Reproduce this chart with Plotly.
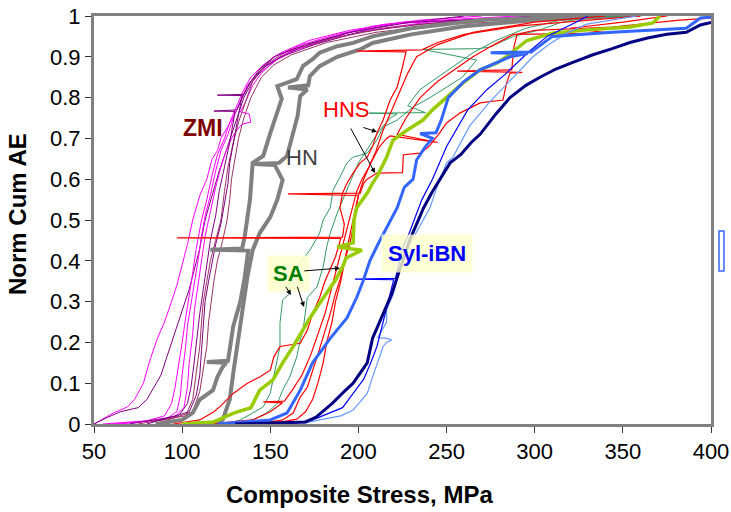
import plotly.graph_objects as go

# ---------------- data (Composite Stress MPa, Norm Cum AE) ----------------
# ZMI curves
zmi1_x = [50, 54, 61, 69, 73, 78, 82, 86, 90, 94, 97, 100, 103, 106, 110, 114, 117, 120, 122, 126, 130, 133, 138, 144, 154, 165, 178, 193, 208, 235, 270]
zmi1_y = [0, 0.01, 0.027, 0.042, 0.06, 0.1, 0.16, 0.21, 0.25, 0.3, 0.34, 0.39, 0.44, 0.5, 0.56, 0.6, 0.65, 0.67, 0.7, 0.73, 0.76, 0.79, 0.835, 0.86, 0.893, 0.918, 0.935, 0.957, 0.975, 0.99, 1.0]
zmi2_x = [50, 57, 65, 75, 80, 84, 88, 91, 94, 98, 101, 104, 107, 110, 113, 117, 121, 125, 128, 131, 135, 140, 148, 160, 175, 195, 220, 260]
zmi2_y = [0, 0.015, 0.03, 0.04, 0.06, 0.09, 0.12, 0.16, 0.2, 0.25, 0.29, 0.33, 0.38, 0.43, 0.5, 0.56, 0.62, 0.67, 0.71, 0.75, 0.8, 0.84, 0.88, 0.91, 0.935, 0.96, 0.98, 1.0]
zmi3_x = [55, 80, 90, 94, 96, 98, 100, 102, 104, 106, 108, 111, 114, 117, 120, 124, 127, 131, 135, 139, 146, 156, 172, 195, 225, 290]
zmi3_y = [0, 0.008, 0.02, 0.05, 0.09, 0.14, 0.2, 0.26, 0.31, 0.37, 0.43, 0.5, 0.55, 0.61, 0.66, 0.7, 0.74, 0.78, 0.82, 0.85, 0.88, 0.91, 0.94, 0.965, 0.985, 1.0]
zmi4_x = [60, 90, 97, 99, 100, 102, 103, 105, 107, 109, 111, 113, 116, 119, 122, 126, 129, 133, 137, 143, 152, 168, 188, 215, 300]
zmi4_y = [0, 0.01, 0.03, 0.07, 0.12, 0.19, 0.24, 0.29, 0.34, 0.4, 0.46, 0.51, 0.56, 0.62, 0.67, 0.71, 0.75, 0.79, 0.83, 0.86, 0.9, 0.93, 0.955, 0.98, 1.0]
zmi5_x = [65, 95, 101, 103, 104, 106, 107, 109, 111, 113, 116, 119, 122, 125, 128, 131, 134, 139, 138, 133, 136, 140, 145, 152, 162, 180, 205, 240, 320]
zmi5_y = [0, 0.015, 0.04, 0.09, 0.15, 0.22, 0.28, 0.34, 0.4, 0.46, 0.52, 0.58, 0.63, 0.67, 0.7, 0.72, 0.735, 0.74, 0.76, 0.765, 0.79, 0.83, 0.86, 0.89, 0.915, 0.94, 0.965, 0.985, 1.0]
zmi6_x = [70, 98, 103, 105, 106.5, 108, 110, 112, 114, 116, 119, 121, 124, 127, 130, 118, 131, 134, 139, 145, 156, 175, 200, 235, 300]
zmi6_y = [0, 0.02, 0.05, 0.09, 0.14, 0.2, 0.27, 0.33, 0.39, 0.45, 0.51, 0.57, 0.63, 0.69, 0.766, 0.767, 0.77, 0.8, 0.84, 0.87, 0.9, 0.93, 0.96, 0.98, 1.0]
zmi7_x = [75, 102, 106, 108, 110, 111, 112, 114, 116, 119, 122, 124, 126, 129, 132, 136, 140, 147, 160, 185, 215, 260, 340]
zmi7_y = [0, 0.02, 0.06, 0.12, 0.19, 0.25, 0.3, 0.35, 0.4, 0.45, 0.5, 0.57, 0.63, 0.69, 0.74, 0.79, 0.84, 0.88, 0.915, 0.945, 0.97, 0.99, 1.0]
zmi8_x = [80, 104, 108, 110, 111, 112, 113, 115, 117, 119, 122, 124, 126, 127, 129, 131, 134, 120, 135, 139, 144, 152, 170, 195, 230, 320]
zmi8_y = [0, 0.03, 0.07, 0.12, 0.18, 0.24, 0.3, 0.35, 0.4, 0.44, 0.49, 0.54, 0.59, 0.64, 0.69, 0.74, 0.805, 0.806, 0.808, 0.84, 0.87, 0.9, 0.93, 0.96, 0.985, 1.0]
zmi9_x = [85, 106, 110, 112, 114, 115, 116.5, 118, 120, 123, 125.5, 127, 128, 130, 132, 135, 139, 145, 152, 162, 182, 210, 250, 360]
zmi9_y = [0, 0.03, 0.08, 0.13, 0.19, 0.25, 0.3, 0.35, 0.4, 0.45, 0.5, 0.55, 0.6, 0.65, 0.7, 0.75, 0.8, 0.85, 0.88, 0.905, 0.935, 0.96, 0.98, 1.0]

# HN curves
hn1_x = [85, 100, 106, 110, 117.5, 120, 123, 125, 114, 126, 129, 133, 135.5, 137, 137.5, 116, 134, 135.5, 137, 138.5, 140, 146, 150, 154, 156.5, 154, 159.5, 165, 168.5, 174, 178, 188, 197, 208, 230, 270, 330]
hn1_y = [0, 0.01, 0.027, 0.06, 0.083, 0.115, 0.14, 0.15, 0.152, 0.155, 0.24, 0.3, 0.36, 0.41, 0.425, 0.427, 0.43, 0.46, 0.507, 0.55, 0.64, 0.657, 0.713, 0.762, 0.797, 0.828, 0.836, 0.845, 0.877, 0.894, 0.91, 0.926, 0.934, 0.95, 0.97, 0.99, 1.0]
hn2_x = [105, 118, 123, 127, 129, 131, 134.5, 137, 140, 144, 150, 154, 157, 152.5, 141, 155, 159.5, 163, 165.5, 167, 171, 160, 171.5, 172.5, 178, 188, 201, 208, 230, 260, 300, 350]
hn2_y = [0, 0.003, 0.01, 0.06, 0.125, 0.18, 0.28, 0.36, 0.426, 0.468, 0.507, 0.55, 0.598, 0.635, 0.637, 0.64, 0.657, 0.713, 0.755, 0.804, 0.82, 0.825, 0.83, 0.853, 0.877, 0.9, 0.918, 0.934, 0.955, 0.975, 0.99, 1.0]

# HNS curves
hns1_x = [95, 110, 118, 122, 129, 137, 144, 150, 152, 155.5, 167, 171, 174, 178, 181, 184, 187, 189, 190, 97, 191, 192, 189.5, 191, 193.5, 197, 201, 205, 208, 210.5, 214, 218, 222, 225, 227, 199, 236, 245, 260, 290, 330, 360]
hns1_y = [0, 0.01, 0.03, 0.045, 0.075, 0.1, 0.115, 0.132, 0.164, 0.19, 0.198, 0.23, 0.27, 0.31, 0.35, 0.38, 0.41, 0.44, 0.455, 0.456, 0.458, 0.49, 0.53, 0.566, 0.59, 0.615, 0.64, 0.654, 0.68, 0.713, 0.745, 0.794, 0.826, 0.875, 0.912, 0.914, 0.917, 0.935, 0.955, 0.975, 0.99, 1.0]
hns2_x = [120, 150, 157, 163, 167, 171, 176.5, 180, 184, 187, 190, 192, 195, 197, 198, 200, 160, 201, 203, 205, 210.5, 225, 225.5, 235, 240, 246, 250, 257.5, 269, 282, 284, 286, 293, 256, 287, 288, 290, 300, 344, 382, 400]
hns2_y = [0, 0.005, 0.01, 0.027, 0.066, 0.09, 0.164, 0.213, 0.27, 0.32, 0.36, 0.4, 0.44, 0.48, 0.52, 0.56, 0.564, 0.566, 0.59, 0.6, 0.615, 0.616, 0.66, 0.664, 0.68, 0.713, 0.738, 0.762, 0.787, 0.794, 0.835, 0.86, 0.862, 0.865, 0.868, 0.92, 0.955, 0.965, 0.973, 0.99, 0.995]
hns3_x = [130, 155, 165, 170, 174, 177, 180, 182, 185, 187, 190, 192, 194, 196, 198, 200, 203, 207, 212, 216, 218, 245, 222, 227, 235, 245, 255, 265, 275, 288, 343, 320, 350, 375]
hns3_y = [0, 0.004, 0.012, 0.03, 0.06, 0.1, 0.15, 0.2, 0.25, 0.3, 0.35, 0.4, 0.44, 0.48, 0.52, 0.56, 0.6, 0.64, 0.68, 0.7, 0.706, 0.69, 0.71, 0.75, 0.8, 0.84, 0.87, 0.9, 0.925, 0.955, 0.958, 0.97, 0.985, 1.0]
hns4_x = [115, 140, 150, 157, 146, 158, 162, 168, 173, 177, 181, 184, 187, 190, 193, 196, 199, 202, 206, 210, 214, 219, 224, 228, 233, 245, 265, 300, 340]
hns4_y = [0, 0.01, 0.03, 0.052, 0.054, 0.056, 0.08, 0.12, 0.17, 0.22, 0.27, 0.32, 0.37, 0.42, 0.47, 0.52, 0.57, 0.6, 0.63, 0.67, 0.72, 0.77, 0.82, 0.86, 0.9, 0.93, 0.96, 0.985, 1.0]

# SA curves
sa1_x = [125, 133, 140, 146, 150, 151.5, 154, 155.5, 155.5, 157, 161, 161, 165, 172.5, 178, 180, 184, 185.6, 189.5, 193.5, 197, 205, 210.5, 214, 222, 231, 240.6, 250, 259, 267, 236.6, 268, 274.6, 288, 303, 314, 330, 358]
sa1_y = [0, 0.01, 0.027, 0.042, 0.076, 0.108, 0.157, 0.19, 0.247, 0.304, 0.32, 0.353, 0.385, 0.426, 0.468, 0.5, 0.53, 0.573, 0.605, 0.64, 0.654, 0.664, 0.696, 0.728, 0.745, 0.777, 0.8, 0.826, 0.85, 0.892, 0.918, 0.92, 0.924, 0.95, 0.966, 0.983, 0.998, 1.0]
sa2_x = [130, 140, 148, 154, 157, 161, 165, 167, 168.6, 170, 171, 176.5, 180, 182, 184, 188, 192, 196, 200, 206, 212, 218, 222, 206, 238, 228, 235, 245, 255, 265, 278, 295, 315, 340]
sa2_y = [0, 0.01, 0.027, 0.05, 0.083, 0.115, 0.164, 0.206, 0.23, 0.28, 0.31, 0.336, 0.385, 0.434, 0.468, 0.517, 0.56, 0.6, 0.64, 0.68, 0.72, 0.75, 0.76, 0.762, 0.763, 0.78, 0.82, 0.85, 0.88, 0.91, 0.94, 0.97, 0.99, 1.0]
sa3_x = [100, 118, 124, 130, 139, 144, 151.5, 157, 163, 167, 172.5, 178, 184, 187, 191, 193, 202, 188, 197, 197.5, 199, 205, 208, 211, 216, 219.6, 227.5, 236.6, 242, 250, 259, 269, 278.6, 284, 295.6, 310, 329.6, 354, 367, 371]
sa3_y = [0, 0.005, 0.017, 0.028, 0.04, 0.083, 0.108, 0.15, 0.19, 0.22, 0.26, 0.296, 0.336, 0.353, 0.385, 0.407, 0.426, 0.434, 0.444, 0.5, 0.53, 0.566, 0.59, 0.61, 0.654, 0.696, 0.72, 0.745, 0.77, 0.8, 0.835, 0.868, 0.885, 0.9, 0.94, 0.958, 0.966, 0.973, 0.983, 1.0]

# Syl-iBN curves
syl1_x = [120, 150, 159.5, 167, 174, 184, 193.5, 199, 202.6, 206.5, 211, 216, 222, 226, 231, 233, 238, 242, 235, 244, 247, 251, 260, 269, 286, 296, 275, 298, 310, 344, 386, 394, 401]
syl1_y = [0, 0.01, 0.027, 0.083, 0.15, 0.21, 0.26, 0.31, 0.35, 0.4, 0.44, 0.48, 0.53, 0.58, 0.6, 0.647, 0.68, 0.7, 0.712, 0.714, 0.745, 0.8, 0.84, 0.868, 0.9, 0.908, 0.91, 0.912, 0.95, 0.96, 0.97, 0.995, 0.998]
syl2_x = [120, 165, 174, 191, 197, 203, 207, 210.5, 214, 217, 220, 198, 221, 225, 229, 236, 242, 250, 262, 273, 284, 296, 307, 326, 330]
syl2_y = [0, 0.003, 0.01, 0.04, 0.075, 0.11, 0.15, 0.19, 0.25, 0.3, 0.354, 0.355, 0.357, 0.43, 0.47, 0.55, 0.6, 0.68, 0.77, 0.82, 0.86, 0.91, 0.95, 0.99, 1.0]
syl3_x = [135, 170, 178, 190, 197, 205, 208, 211, 214, 216, 219, 216, 211, 216, 216, 219.6, 222, 225, 229, 233, 236.6, 240.6, 244.5, 250, 253.6, 263, 274.6, 287.7, 299, 308, 318, 329.6, 344, 358]
syl3_y = [0, 0.003, 0.01, 0.02, 0.034, 0.075, 0.115, 0.15, 0.19, 0.2, 0.206, 0.21, 0.212, 0.25, 0.28, 0.316, 0.353, 0.4, 0.44, 0.47, 0.5, 0.53, 0.58, 0.64, 0.654, 0.73, 0.79, 0.85, 0.9, 0.93, 0.958, 0.98, 0.99, 1.0]
syl4_x = [130, 170, 176, 185, 192, 197, 205, 208, 211, 215, 219, 222, 226, 229, 233, 237, 242, 248, 252, 258, 264, 269, 278, 286, 295, 303, 312, 322, 333, 344, 354, 364, 375, 386, 394, 401]
syl4_y = [0, 0.005, 0.017, 0.05, 0.08, 0.1, 0.15, 0.21, 0.24, 0.28, 0.32, 0.36, 0.41, 0.45, 0.49, 0.53, 0.57, 0.61, 0.64, 0.66, 0.69, 0.71, 0.76, 0.8, 0.83, 0.85, 0.87, 0.887, 0.905, 0.92, 0.935, 0.946, 0.955, 0.96, 0.978, 0.985]

x_ticks = [50, 100, 150, 200, 250, 300, 350, 400]
y_ticks = [0, 0.1, 0.2, 0.3, 0.4, 0.5, 0.6, 0.7, 0.8, 0.9, 1]
x_title = "Composite Stress, MPa"
y_title = "Norm Cum AE"

# ---------------- styling ----------------
MAG, PUR, MAU = "#FF00FF", "#800080", "#993366"
series = [
    (zmi1_x, zmi1_y, MAG, 1), (zmi2_x, zmi2_y, PUR, 1), (zmi3_x, zmi3_y, MAG, 1),
    (zmi4_x, zmi4_y, MAG, 1), (zmi5_x, zmi5_y, MAG, 1), (zmi6_x, zmi6_y, PUR, 1),
    (zmi7_x, zmi7_y, MAU, 1), (zmi8_x, zmi8_y, PUR, 1), (zmi9_x, zmi9_y, MAU, 1),
    (hn1_x, hn1_y, "#808080", 4), (hn2_x, hn2_y, "#808080", 4),
    (sa1_x, sa1_y, "#339966", 1), (sa2_x, sa2_y, "#339966", 1),
    (hns1_x, hns1_y, "#FF0000", 1.2), (hns2_x, hns2_y, "#FF0000", 1.2),
    (hns3_x, hns3_y, "#FF0000", 1.2), (hns4_x, hns4_y, "#FF0000", 1.2),
    (sa3_x, sa3_y, "#99CC00", 3.5),
    (syl3_x, syl3_y, "#6699FF", 1.2), (syl2_x, syl2_y, "#0000FF", 1.2),
    (syl1_x, syl1_y, "#3366FF", 3), (syl4_x, syl4_y, "#000080", 3),
]

fig = go.Figure()
for xs, ys, col, w in series:
    fig.add_trace(go.Scatter(x=xs, y=ys, mode="lines",
                             line=dict(color=col, width=w), showlegend=False,
                             hoverinfo="skip"))

FONT = "Liberation Sans, Arial, sans-serif"
ann = [
    dict(x=111.8, y=0.725, text="<b>ZMI</b>", font=dict(color="#800000", size=23)),
    dict(x=168, y=0.652, text="HN", font=dict(color="#404040", size=22)),
    dict(x=193, y=0.77, text="HNS", font=dict(color="#FF0000", size=22)),
    dict(x=160.6, y=0.37, text="<b>SA</b>", font=dict(color="#008000", size=22),
         bgcolor="rgba(255,255,204,0.85)", borderpad=5),
    dict(x=238.9, y=0.419, text="<b>Syl-iBN</b>", font=dict(color="#0000FF", size=22),
         bgcolor="rgba(255,255,204,0.8)", borderpad=6),
]
for a in ann:
    a.update(xref="x", yref="y", showarrow=False, font=dict(family=FONT, **a["font"]))
    fig.add_annotation(**a)

arrows = [
    ((210.5, 0.716), (202, 0.728)),
    ((209.4, 0.615), (195.2, 0.728)),
    ((189.5, 0.382), (168.5, 0.375)),
    ((161.7, 0.316), (158.3, 0.34)),
    ((169.1, 0.287), (165.1, 0.34)),
]
for (hx, hy), (tx, ty) in arrows:
    fig.add_annotation(x=hx, y=hy, ax=tx, ay=ty, xref="x", yref="y", axref="x", ayref="y",
                       text="", showarrow=True, arrowhead=2, arrowsize=1, arrowwidth=1,
                       arrowcolor="#000000")

# axis titles (placed like the original, slightly left of centre)
fig.add_annotation(xref="paper", yref="paper", x=0.431, y=-0.174, xanchor="center", yanchor="middle",
                   showarrow=False, text="<b>" + x_title + "</b>",
                   font=dict(family=FONT, size=24, color="#000000"))
fig.add_annotation(xref="paper", yref="paper", x=-0.123, y=0.515, xanchor="center", yanchor="middle",
                   showarrow=False, textangle=-90, text="<b>" + y_title + "</b>",
                   font=dict(family=FONT, size=24, color="#000000"))

fig.add_shape(type="rect", xref="paper", yref="paper", x0=1.013, x1=1.021, y0=0.375, y1=0.473,
              line=dict(color="#3366FF", width=1.5), fillcolor="white")

fig.update_layout(
    width=731, height=512, autosize=False,
    margin=dict(l=94, r=20, t=16, b=88),
    paper_bgcolor="white", plot_bgcolor="white",
    font=dict(family=FONT, color="#000000"),
    xaxis=dict(range=[50, 400], tickvals=x_ticks, showgrid=False, zeroline=False,
               showline=True, linecolor="#808080", linewidth=3, mirror=True,
               ticks="outside", ticklen=6, tickcolor="#333333", automargin=False,
               tickfont=dict(size=22, family=FONT)),
    yaxis=dict(range=[0, 1], tickvals=y_ticks, showgrid=False, zeroline=False,
               showline=True, linecolor="#808080", linewidth=3, mirror=True,
               ticks="outside", ticklen=6, tickcolor="#333333", automargin=False,
               tickfont=dict(size=22, family=FONT)),
)

fig.write_html("out.html")
